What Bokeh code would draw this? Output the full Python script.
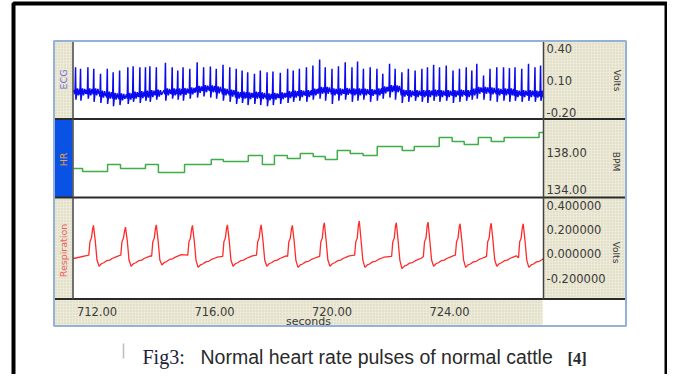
import math
from bokeh.plotting import figure
from bokeh.models import Range1d
from bokeh.core.properties import value
from bokeh.embed import file_html
from bokeh.resources import INLINE

# ---------------- data ----------------
# ECG: R-spike times (s), spike peaks, S troughs, local baseline (Volts)
ecg_t = [711.27, 711.44, 711.69, 711.89, 712.12, 712.35, 712.55, 712.77, 713.05, 713.23,
         713.46, 713.65, 713.80, 714.02, 714.33, 714.56, 714.75, 714.93, 715.16, 715.41,
         715.63, 715.86, 716.06, 716.29, 716.52, 716.74, 716.94, 717.13, 717.36, 717.56,
         717.79, 717.99, 718.24, 718.49, 718.68, 718.89, 719.13, 719.35, 719.58, 719.77,
         720.00, 720.22, 720.45, 720.68, 720.87, 721.07, 721.30, 721.53, 721.73, 721.96,
         722.15, 722.38, 722.60, 722.83, 723.06, 723.25, 723.46, 723.66, 723.89, 724.12,
         724.34, 724.57, 724.76, 724.93, 725.16, 725.38, 725.61, 725.84, 726.04, 726.23,
         726.46, 726.69, 726.91, 727.10]
ecg_r = [0.225, 0.21, 0.225, 0.21, 0.163, 0.21, 0.178, 0.194, 0.225, 0.234,
         0.225, 0.225, 0.234, 0.225, 0.266, 0.225, 0.194, 0.225, 0.21, 0.272,
         0.225, 0.231, 0.21, 0.247, 0.225, 0.21, 0.194, 0.178, 0.163, 0.194,
         0.178, 0.184, 0.172, 0.21, 0.194, 0.21, 0.225, 0.241, 0.297, 0.225,
         0.21, 0.234, 0.272, 0.225, 0.278, 0.21, 0.225, 0.21, 0.163, 0.256,
         0.21, 0.178, 0.21, 0.194, 0.21, 0.225, 0.247, 0.225, 0.241, 0.194,
         0.21, 0.225, 0.194, 0.256, 0.147, 0.21, 0.225, 0.225, 0.216, 0.225,
         0.21, 0.256, 0.225, 0.241]
ecg_s = [-0.08, -0.09, -0.07, -0.10, -0.11, -0.12, -0.14, -0.13, -0.12, -0.10,
         -0.11, -0.09, -0.10, -0.08, -0.09, -0.07, -0.08, -0.09, -0.07, -0.06,
         -0.05, -0.06, -0.07, -0.09, -0.10, -0.12, -0.11, -0.13, -0.12, -0.13,
         -0.14, -0.13, -0.12, -0.11, -0.10, -0.09, -0.10, -0.08, -0.07, -0.09,
         -0.12, -0.09, -0.08, -0.10, -0.09, -0.08, -0.10, -0.09, -0.07, -0.06,
         -0.08, -0.11, -0.10, -0.09, -0.10, -0.11, -0.09, -0.10, -0.09, -0.11,
         -0.10, -0.09, -0.08, -0.07, -0.08, -0.09, -0.10, -0.09, -0.10, -0.09,
         -0.10, -0.09, -0.10, -0.09]
ecg_b = [-0.009, -0.009, -0.009, -0.009, -0.03, -0.04, -0.05, -0.056, -0.05, -0.04,
         -0.035, -0.03, -0.025, -0.02, -0.009, -0.009, -0.009, -0.005, 0.0, 0.015,
         0.022, 0.02, 0.01, -0.009, -0.02, -0.04, -0.04, -0.045, -0.04, -0.045,
         -0.056, -0.05, -0.045, -0.035, -0.03, -0.025, -0.025, -0.01, 0.006, 0.006,
         -0.009, -0.009, -0.005, -0.009, -0.009, -0.01, -0.015, -0.009, 0.01, 0.022,
         0.02, -0.02, -0.025, -0.025, -0.025, -0.025, -0.02, -0.025, -0.025, -0.025,
         -0.02, -0.025, -0.01, 0.006, 0.006, 0.0, -0.009, -0.009, -0.009, -0.025,
         -0.025, -0.025, -0.03, -0.03]

# Heart rate: step start times (s) and BPM
hr_t = [711.2, 711.51, 712.36, 712.80, 713.65, 714.09, 714.98, 715.89, 716.30, 717.15,
        717.63, 718.04, 718.48, 718.92, 719.36, 719.77, 720.18, 720.62, 721.06, 721.54,
        722.39, 722.80, 723.65, 724.09, 724.50, 724.98, 725.42, 725.86, 727.05]
hr_bpm = [136.27, 135.95, 136.70, 136.27, 136.70, 135.84, 136.70, 137.24, 137.03, 137.68,
          136.70, 137.68, 137.35, 137.89, 137.57, 137.24, 138.22, 137.89, 137.68, 138.65,
          138.22, 138.65, 139.62, 139.19, 138.86, 139.62, 139.19, 139.62, 140.16]

# Respiration: peak times, peak values, troughs after each peak, level before each rise
resp_peak_t = [711.88, 712.97, 714.02, 715.25, 716.44, 717.59, 718.65, 719.74, 720.93,
               722.19, 723.27, 724.36, 725.42, 726.51]
resp_peak_v = [0.234, 0.220, 0.239, 0.234, 0.239, 0.239, 0.234, 0.256, 0.269, 0.256,
               0.261, 0.248, 0.252, 0.248]
resp_trough_v = [-0.10, -0.10, -0.09, -0.11, -0.10, -0.10, -0.11, -0.10, -0.11, -0.12,
                 -0.10, -0.11, -0.10, -0.11]
resp_pre_v = [-0.01, -0.01, -0.02, -0.01, -0.02, -0.01, -0.02, -0.02, -0.01, -0.02,
              -0.02, -0.01, -0.02, -0.03]
resp_start_v = -0.037
resp_end_v = -0.037

# axis labels
x_ticks = [712, 716, 720, 724]
x_tick_labels = ["712.00", "716.00", "720.00", "724.00"]
ecg_ticks = [0.40, 0.10, -0.20]
ecg_tick_labels = ["0.40", "0.10", "-0.20"]
hr_ticks = [138, 134]
hr_tick_labels = ["138.00", "134.00"]
resp_ticks = [0.4, 0.2, 0.0, -0.2]
resp_tick_labels = ["0.400000", "0.200000", "0.000000", "-0.200000"]

# ---------------- layout (image pixels) ----------------
W, H = 667, 374
PX0, PY0 = 0, 0
T0, T1 = 711.2, 727.2          # visible time span
PL, PR = 73, 543               # plot area left / right
ECG_Y = (40, 118)
HR_Y = (119, 197)
RESP_Y = (197, 298)

p = figure(width=W, height=H, output_backend="svg", toolbar_location=None,
           x_range=Range1d(PX0, PX0 + W), y_range=Range1d(PY0 + H, PY0),
           x_axis_type=None, y_axis_type=None, title=None, min_border=0)
p.outline_line_color = None
p.background_fill_color = "white"
p.border_fill_color = "white"

sx = (T1 - T0) / (PR - PL)
p.extra_x_ranges = {"t": Range1d(T0 - (PL - PX0) * sx, T1 + (PX0 + W - PR) * sx)}


def band(v_top, v_bot, y_top, y_bot):
    s = (v_top - v_bot) / (y_bot - y_top)
    return Range1d(v_top - (PY0 + H - y_top) * s, v_top + (y_top - PY0) * s)


p.extra_y_ranges = {
    "ecg": band(0.475, -0.256, *ECG_Y),
    "hr": band(141.57, 133.14, *HR_Y),
    "resp": band(0.463, -0.365, *RESP_Y),
}

BEIGE = "#ecead8"
DOT = "#d5d0ae"


def beige(l, r, t, b):
    p.quad(left=l, right=r, top=t, bottom=b, fill_color=BEIGE, line_color=None,
           hatch_pattern="dot", hatch_color=DOT, hatch_scale=3, hatch_weight=1)


# strips
beige(54, 72, 41, 118)
p.quad(left=54, right=72, top=119, bottom=197, fill_color="#0a52e4", line_color=None)
beige(54, 72, 197, 298)
beige(54, 542, 299, 325)
beige(543, 625, 41, 298)

# ---------------- signals ----------------
ecg_shape = [(-0.045, 0.02), (-0.02, -0.02), (0.0, None), (0.012, None),
             (0.035, -0.025), (0.065, 0.035), (0.10, -0.03), (0.14, 0.03), (0.175, -0.015)]
et, ev = [T0], [ecg_b[0]]
for t, r, s, b in zip(ecg_t, ecg_r, ecg_s, ecg_b):
    for i, (dt, dv) in enumerate(ecg_shape):
        tt = t + dt
        if tt < T0 or tt > T1:
            continue
        if i == 2:
            vv = r
        elif i == 3:
            vv = s
        else:
            vv = b + dv
        et.append(tt)
        ev.append(vv)
p.line(et, ev, x_range_name="t", y_range_name="ecg", line_color="#0a0af0", line_width=1.5)

hx = hr_t + [T1]
hy = hr_bpm + [hr_bpm[-1]]
p.step(hx, hy, mode="after", x_range_name="t", y_range_name="hr",
       line_color="#3fae48", line_width=1.5)

rt, rv = [T0], [resp_start_v]
n = len(resp_peak_t)
for i in range(n):
    tp, pk, tr, pre = resp_peak_t[i], resp_peak_v[i], resp_trough_v[i], resp_pre_v[i]
    nxt = resp_peak_t[i + 1] - 0.16 if i + 1 < n else T1
    rt += [tp - 0.16, tp - 0.12, tp - 0.07, tp - 0.03, tp, tp + 0.06, tp + 0.12, tp + 0.19]
    rv += [pre, 0.10, 0.13, pk - 0.03, pk, 0.11, -0.05, tr]
    for dt, dv in [(0.27, 0.02), (0.35, 0.028), (0.45, 0.045), (0.55, 0.05),
                   (0.65, 0.065), (0.75, 0.075), (0.85, 0.085)]:
        if tp + dt < nxt - 0.03:
            rt.append(tp + dt)
            rv.append(tr + dv)
rt.append(T1)
rv.append(resp_end_v)
p.line(rt, rv, x_range_name="t", y_range_name="resp", line_color="#ff2a2a", line_width=1.3)

# ---------------- frames & separators ----------------
SEP = "#2a2a2a"
p.segment(x0=[54, 54, 54], x1=[625, 625, 625], y0=[118.5, 197, 298.5], y1=[118.5, 197, 298.5],
          line_color=SEP, line_width=2)
p.segment(x0=[72.5, 543], x1=[72.5, 543], y0=[41, 41], y1=[299, 299],
          line_color="#444444", line_width=1.5)
p.quad(left=53.5, right=625.5, top=40.5, bottom=325.5, fill_color=None,
       line_color="#95b2d6", line_width=2)
p.quad(left=13, right=666, top=3, bottom=377, fill_color=None,
       line_color="black", line_width=4)

# ---------------- texts ----------------
F = value("DejaVu Sans")
TC = "#3a3a3a"
p.text(x=[546] * 3, y=ecg_ticks, text=ecg_tick_labels, y_range_name="ecg",
       text_font=F, text_font_size="11.5px", text_color=TC,
       text_align="left", text_baseline="middle")
p.text(x=[546] * 2, y=hr_ticks, text=hr_tick_labels, y_range_name="hr",
       text_font=F, text_font_size="11.5px", text_color=TC,
       text_align="left", text_baseline="middle")
p.text(x=[546] * 4, y=resp_ticks, text=resp_tick_labels, y_range_name="resp",
       text_font=F, text_font_size="11.5px", text_color=TC,
       text_align="left", text_baseline="middle")
p.text(x=x_ticks, y=[311] * 4, text=x_tick_labels, x_range_name="t",
       text_font=F, text_font_size="11.5px", text_color=TC,
       text_align="center", text_baseline="middle")
p.text(x=[(T0 + T1) / 2], y=[321], text=["seconds"], x_range_name="t",
       text_font=F, text_font_size="11px", text_color=TC,
       text_align="center", text_baseline="middle")

# units (right)
p.text(x=[616, 615, 615], y=[80, 161, 252], text=["Volts", "BPM", "Volts"],
       angle=-math.pi / 2, text_font=F, text_font_size="9px", text_color=TC,
       text_align="center", text_baseline="middle")
# channel names (left)
p.text(x=[63], y=[79], text=["ECG"], angle=math.pi / 2, text_font=F,
       text_font_size="9.5px", text_color="#6b6bdc", text_align="center", text_baseline="middle")
p.text(x=[63], y=[159], text=["HR"], angle=math.pi / 2, text_font=F,
       text_font_size="9.5px", text_color="#f0a43a", text_align="center", text_baseline="middle")
p.text(x=[63], y=[250], text=["Respiration"], angle=math.pi / 2, text_font=F,
       text_font_size="9.5px", text_color="#f06060", text_align="center", text_baseline="middle")

# caption
p.segment(x0=[123], x1=[123], y0=[343], y1=[358], line_color="#bdbdbd", line_width=1.5)
p.text(x=[142], y=[356], text=["Fig3:"], text_font=value("Liberation Serif"),
       text_font_size="20px", text_color="#1e1e3c", text_align="left", text_baseline="alphabetic")
p.text(x=[200], y=[356], text=["Normal heart rate pulses of normal cattle"],
       text_font=value("Liberation Sans"), text_font_size="19.5px", text_color="#2a2a2a",
       text_align="left", text_baseline="alphabetic")
p.text(x=[567], y=[358], text=["[4]"], text_font=value("Liberation Serif"),
       text_font_size="16.5px", text_font_style="bold", text_color="#2a2a2a",
       text_align="left", text_baseline="alphabetic")

open("out.html", "w").write(file_html(p, INLINE))
